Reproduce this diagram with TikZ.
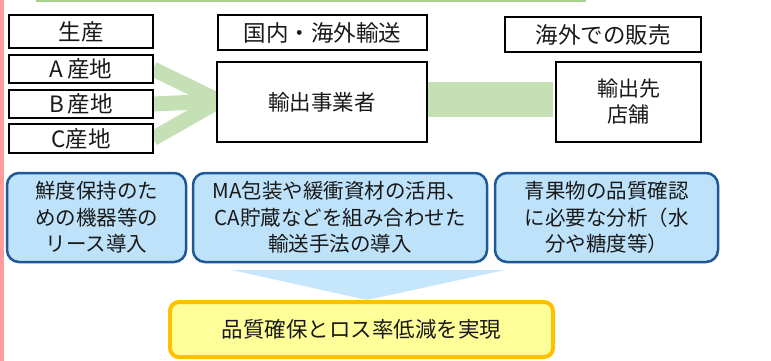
\documentclass[tikz,border=0pt]{standalone}
\usepackage{fontspec}
\setmainfont{Noto Sans CJK JP}
\begin{document}
\begin{tikzpicture}[x=1pt,y=-1pt,
  lbl/.style={draw=black, line width=2.5pt, fill=white, inner sep=0pt, font=\fontsize{22.5}{27}\selectfont, text=black!90},
  bluebox/.style={draw=bluedk, line width=2.5pt, fill=bluefill, rounded corners=12pt, inner sep=0pt, align=center, font=\fontsize{20.5}{26.5}\selectfont, text=black!90},
  band/.style={draw=greenband, line width=15pt}
]
\definecolor{greenband}{HTML}{C5E0B4}
\definecolor{greenline}{HTML}{A9D18E}
\definecolor{bluedk}{HTML}{1F5A96}
\definecolor{bluefill}{HTML}{BDE2FA}
\definecolor{bluetri}{HTML}{C6E7FB}
\definecolor{yelfill}{HTML}{FFFF99}
\definecolor{yelline}{HTML}{FFC000}
\definecolor{pinkbar}{HTML}{FF9B9B}
\useasboundingbox (0,0) rectangle (771,361);
\fill[white] (0,0) rectangle (771,361);
\fill[pinkbar] (0,0) rectangle (3.5,361);
\draw[greenline, line width=2pt] (37,-3) -- (37,0.8) -- (585,0.8) -- (585,-3);

% green bands (drawn under boxes)
\coordinate (tip) at (219,101);
\draw[band, line join=miter] (153,69) -- (tip) -- (153,138.5);
\draw[band] (153,104) -- (tip);
\fill[greenband] (426,82) rectangle (553,117);

% top labels
\node[lbl, minimum width=144pt, minimum height=33pt] (sei) at (81,31.5) {生産};
\node[lbl, minimum width=144pt, minimum height=28pt] (a) at (81,69) {A\hspace{4pt}産地};
\node[lbl, minimum width=144pt, minimum height=28pt] (b) at (81,104) {B\hspace{4pt}産地};
\node[lbl, minimum width=144pt, minimum height=29pt] (c) at (81,138.5) {C産地};
\node[lbl, minimum width=209pt, minimum height=35pt] (yuso) at (322.5,32.5) {国内・海外輸送};
\node[lbl, minimum width=210pt, minimum height=80pt, font=\fontsize{21.5}{26}\selectfont] (jigyo) at (322,102) {輸出事業者};
\node[lbl, minimum width=196pt, minimum height=35pt] (hanbai) at (603,34.5) {海外での販売};
\node[lbl, minimum width=145pt, minimum height=80pt, align=center, font=\fontsize{21}{26}\selectfont] (tenpo) at (628.5,102) {輸出先\\店舗};

% blue boxes
\node[bluebox, minimum width=179pt, minimum height=89pt] (b1) at (96.5,217.5) {鮮度保持のた\\めの機器等の\\リース導入};
\node[bluebox, minimum width=294pt, minimum height=89pt] (b2) at (340,217.5) {MA包装や緩衝資材の活用、\\CA貯蔵などを組み合わせた\\輸送手法の導入};
\node[bluebox, minimum width=223pt, minimum height=89pt] (b3) at (606.5,217.5) {青果物の品質確認\\に必要な分析（水\\分や糖度等）};

% triangle
\fill[bluetri] (232,270) -- (505,270) -- (367,300) -- cycle;

% yellow result box
\node[draw=yelline, line width=4pt, fill=yelfill, rounded corners=9pt, minimum width=383pt, minimum height=55pt, inner sep=0pt, font=\fontsize{21.5}{26}\selectfont, text=black!90] (res) at (361.5,329.5) {品質確保とロス率低減を実現};
\end{tikzpicture}
\end{document}
